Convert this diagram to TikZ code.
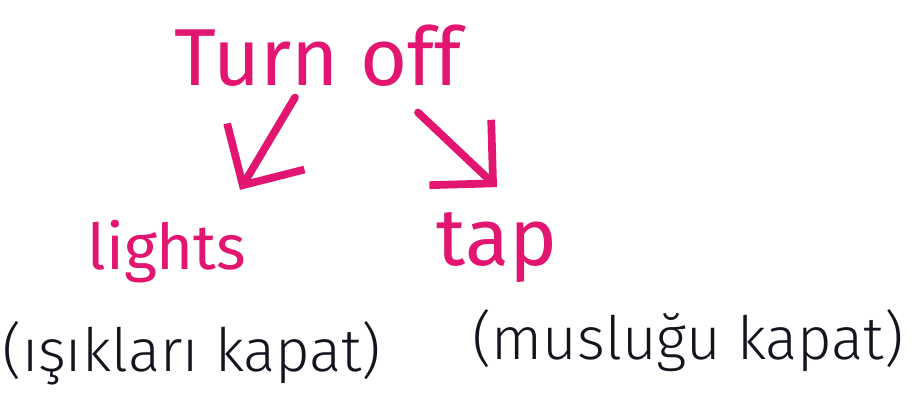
\documentclass[tikz,border=0pt]{standalone}
\usepackage{fontspec}
\setmainfont{Fira Sans Light}
\newfontfamily\inkfont{Fira Sans}
\usetikzlibrary{arrows.meta}
\definecolor{inkpink}{RGB}{226,22,112}
\definecolor{inkblack}{RGB}{20,20,30}
\tikzset{
  word/.style={inkpink,font=\inkfont\fontsize{23}{27}\selectfont,inner sep=0pt},
  gloss/.style={inkblack,font=\fontsize{17}{21}\selectfont,inner sep=0pt},
  arr/.style={inkpink,line width=2.2pt,-{Straight Barb[length=4.5mm,width=9mm,line width=2.2pt]}}
}
\begin{document}
\begin{tikzpicture}[x=1cm,y=1cm,line cap=round,line join=round]
  \useasboundingbox (0,0) rectangle (9.14,4.05);
  \node[word] (turnoff) at (3.18,3.49) {Turn off};
  \node[word,font=\inkfont\fontsize{18}{22}\selectfont] (lights) at (1.67,1.53) {lights};
  \node[word] (tap) at (4.97,1.57) {tap};
  \node[gloss] (glossl) at (1.92,0.52) {(ışıkları kapat)};
  \node[gloss] (glossr) at (6.88,0.64) {(musluğu kapat)};
  \draw[arr] ([xshift=-2.3mm,yshift=-1mm]turnoff.south) -- ([xshift=7.3mm,yshift=3mm]lights.north);
  \draw[arr] ([xshift=10mm,yshift=-2.5mm]turnoff.south) -- ([xshift=0mm,yshift=2.5mm]tap.north);
\end{tikzpicture}
\end{document}
